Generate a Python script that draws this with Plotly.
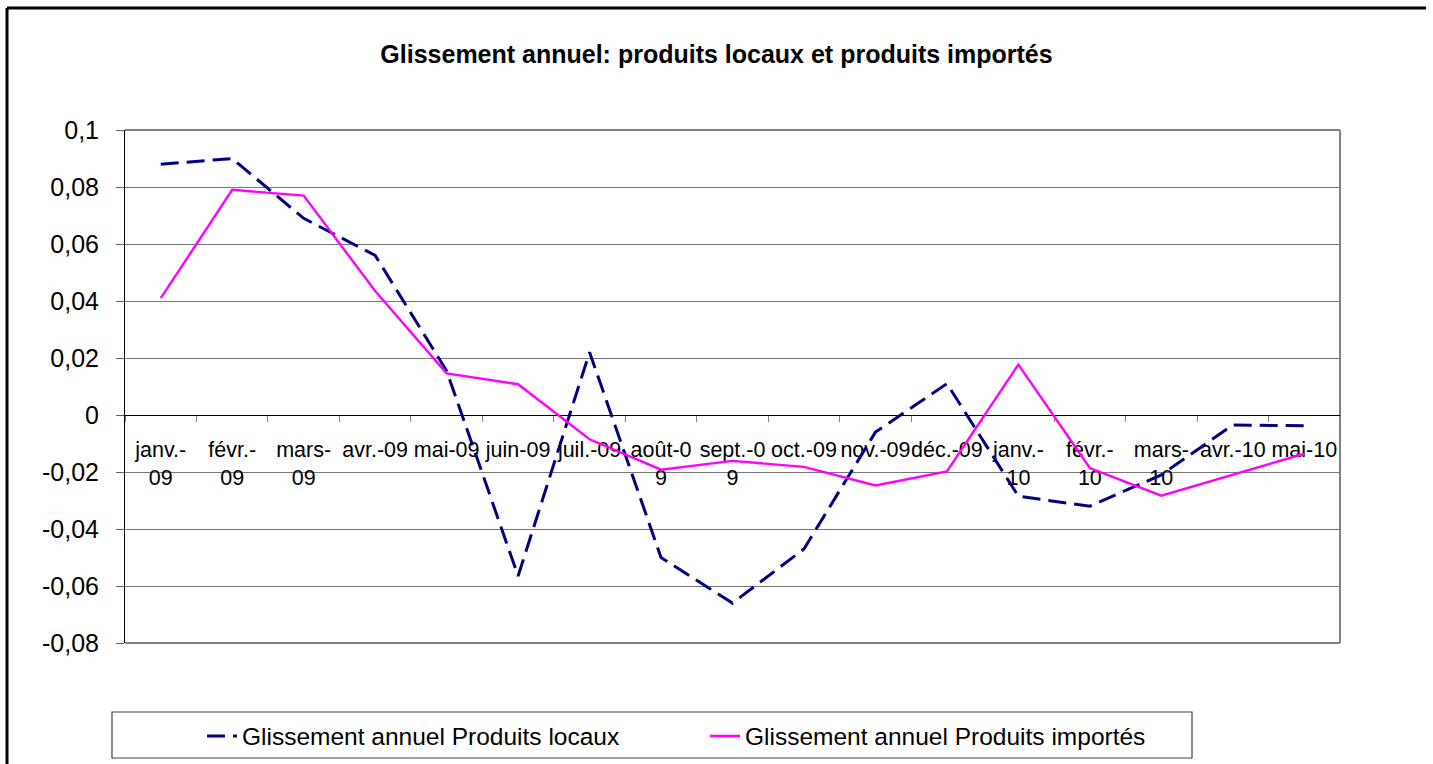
import plotly.graph_objects as go

# ---- data ----
categories = ["janv.-<br>09", "févr.-<br>09", "mars-<br>09", "avr.-09", "mai-09", "juin-09",
              "juil.-09", "août-0<br>9", "sept.-0<br>9", "oct.-09", "nov.-09", "déc.-09",
              "janv.-<br>10", "févr.-<br>10", "mars-<br>10", "avr.-10", "mai-10"]
produits_locaux = [0.088, 0.090, 0.069, 0.056, 0.0155, -0.0565, 0.022, -0.050, -0.066,
                   -0.047, -0.006, 0.011, -0.0285, -0.032, -0.021, -0.0035, -0.0038]
produits_importes = [0.041, 0.079, 0.077, 0.0435, 0.0146, 0.0108, -0.0085, -0.0192, -0.0161,
                     -0.0182, -0.0247, -0.0198, 0.0177, -0.0186, -0.0283, -0.021, -0.0136]
y_tickvals = [0.1, 0.08, 0.06, 0.04, 0.02, 0, -0.02, -0.04, -0.06, -0.08]
y_ticktext = ["0,1", "0,08", "0,06", "0,04", "0,02", "0", "-0,02", "-0,04", "-0,06", "-0,08"]
title_text = "Glissement annuel: produits locaux et produits importés"
name_locaux = "Glissement annuel Produits locaux"
name_importes = "Glissement annuel Produits importés"

FONT = "Liberation Sans, Arial, sans-serif"
W, H = 1433, 764
L, R, T, B = 125, 1340, 130, 643
pw, ph = R - L, B - T

def px(x):
    return (x - L) / pw

def py(y):
    return (B - y) / ph

fig = go.Figure()
fig.add_trace(go.Scatter(
    x=categories, y=produits_locaux, mode="lines", name=name_locaux,
    line=dict(color="#000080", width=3, dash="18px,8px"),
))
fig.add_trace(go.Scatter(
    x=categories, y=produits_importes, mode="lines", name=name_importes,
    line=dict(color="#FF00FF", width=2.4),
))

ymin, ymax = -0.08, 0.1
fig.update_layout(
    width=W, height=H,
    margin=dict(l=L, r=W - R, t=T, b=H - B, pad=0, autoexpand=False),
    paper_bgcolor="white", plot_bgcolor="white",
    font=dict(family=FONT, color="black"),
    title=dict(text="<b>" + title_text + "</b>", x=0.5, xanchor="center",
               y=1 - 54 / H, yanchor="middle", font=dict(size=25, family=FONT, color="black")),
    showlegend=True,
    legend=dict(orientation="h", x=px(202), xanchor="left", y=py(736), yanchor="middle",
                font=dict(size=24.5, family=FONT, color="black"),
                bgcolor="rgba(0,0,0,0)", borderwidth=0, entrywidth=458, entrywidthmode="pixels"),
    xaxis=dict(
        type="category", range=[-0.5, len(categories) - 0.5],
        anchor="free", position=(0 - ymin) / (ymax - ymin),
        showline=True, linecolor="black", linewidth=1,
        ticks="outside", ticklen=6, tickcolor="#808080", tickson="boundaries",
        showgrid=False, tickangle=0, ticklabelstandoff=15, automargin=False,
        tickfont=dict(size=21.5, family=FONT, color="black"),
        layer="below traces", fixedrange=True,
    ),
    yaxis=dict(
        range=[ymin, ymax], tickvals=y_tickvals, ticktext=y_ticktext,
        showline=True, linecolor="black", linewidth=1,
        ticks="outside", ticklen=8, tickcolor="#606060",
        showgrid=True, gridcolor="#777777", gridwidth=1, zeroline=False,
        tickfont=dict(size=25, family=FONT, color="black"), ticklabelstandoff=12,
        layer="below traces", fixedrange=True, automargin=False,
    ),
)

shapes = []
# plot area border (top, right, bottom) gray
for (x0, y0, x1, y1) in [(0, 1, 1, 1), (1, 0, 1, 1), (0, 0, 1, 0)]:
    shapes.append(dict(type="line", xref="paper", yref="paper", x0=x0, y0=y0, x1=x1, y1=y1,
                       line=dict(color="#808080", width=2), layer="below"))
# legend box
shapes.append(dict(type="rect", xref="paper", yref="paper", x0=px(112), x1=px(1192),
                   y0=py(758), y1=py(712), line=dict(color="#404040", width=1.2),
                   fillcolor="rgba(0,0,0,0)"))
# outer chart border (top and left)
shapes.append(dict(type="line", xref="paper", yref="paper", x0=px(7), x1=px(1426),
                   y0=py(8), y1=py(8), line=dict(color="black", width=3)))
shapes.append(dict(type="line", xref="paper", yref="paper", x0=px(7), x1=px(7),
                   y0=py(8), y1=py(780), line=dict(color="black", width=3)))
fig.update_layout(shapes=shapes)

fig.write_html("out.html", config={"displayModeBar": False},
               post_script="document.body.style.margin='0px';document.body.style.overflow='hidden';")
